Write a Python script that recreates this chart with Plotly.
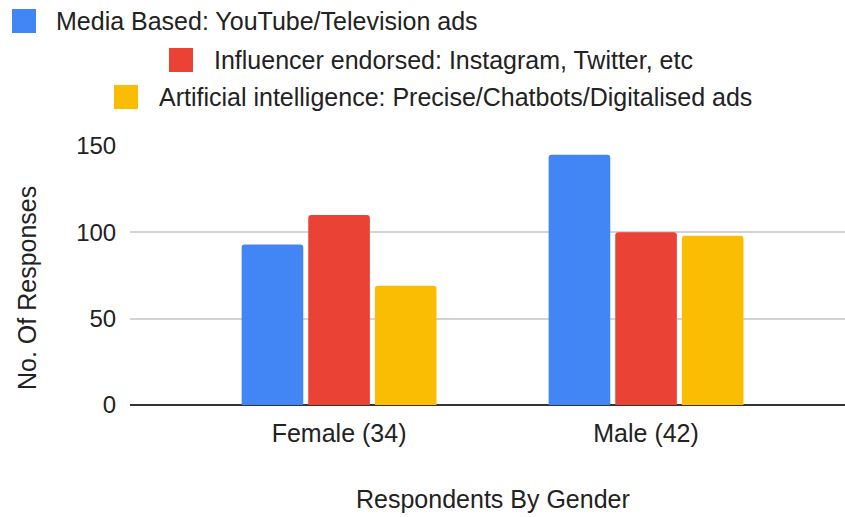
import plotly.graph_objects as go

categories = ["Female (34)", "Male (42)"]
series_names = [
    "Media Based: YouTube/Television ads",
    "Influencer endorsed: Instagram, Twitter, etc",
    "Artificial intelligence: Precise/Chatbots/Digitalised ads",
]
media_based = [93, 145]
influencer = [110, 100]
ai_ads = [69, 98]
colors = ["#4285F4", "#EA4335", "#FBBC04"]
y_ticks = [0, 50, 100, 150]

W, H = 845, 517
L, R, T, B = 130, 0, 146, 112
PW, PH = W - L - R, H - T - B

def px(x):
    return (x - L) / PW

def py(y):
    return (H - B - y) / PH

FONT = "Liberation Sans, Arial, sans-serif"
TXT = "#222222"

fig = go.Figure()
for name, vals, c in zip(series_names, [media_based, influencer, ai_ads], colors):
    fig.add_trace(go.Bar(x=[0, 1], y=vals, name=name, marker=dict(color=c, line=dict(width=0)),
                         showlegend=False))

# legend drawn manually (staggered layout like the reference)
legend_pos = [(12, 21, 54), (169, 60, 212), (114, 97, 157)]  # square left, center y, text left
shapes = []
annotations = []
for (sx, cy, tx), name, c in zip(legend_pos, series_names, colors):
    shapes.append(dict(type="rect", xref="paper", yref="paper",
                       x0=px(sx), x1=px(sx + 24), y0=py(cy - 12), y1=py(cy + 12),
                       fillcolor=c, line=dict(width=0)))
    annotations.append(dict(text=name, xref="paper", yref="paper", x=px(tx), y=py(cy),
                            xanchor="left", yanchor="middle", showarrow=False,
                            font=dict(size=25, color=TXT, family=FONT)))

annotations.append(dict(text="No. Of Responses", xref="paper", yref="paper",
                        x=px(27), y=py(288), textangle=-90, xanchor="center", yanchor="middle",
                        showarrow=False, font=dict(size=25, color=TXT, family=FONT)))
annotations.append(dict(text="Respondents By Gender", xref="paper", yref="paper",
                        x=px(493), y=py(499), xanchor="center", yanchor="middle",
                        showarrow=False, font=dict(size=25, color=TXT, family=FONT)))

fig.update_layout(
    width=W, height=H,
    margin=dict(l=L, r=R, t=T, b=B, pad=0),
    paper_bgcolor="white", plot_bgcolor="white",
    barmode="group", bargap=0.349, bargroupgap=0.075, barcornerradius=3,
    shapes=shapes, annotations=annotations,
    font=dict(family=FONT, size=24, color=TXT),
    xaxis=dict(tickmode="array", tickvals=[0, 1], ticktext=categories,
               range=[-0.681, 1.648], showgrid=False, zeroline=False, showline=False,
               ticks="outside", ticklen=6, tickcolor="rgba(0,0,0,0)",
               tickfont=dict(size=25, color=TXT)),
    yaxis=dict(range=[0, 150], tickvals=y_ticks, showgrid=True, gridcolor="#d3d3d3", gridwidth=1.5,
               zeroline=True, zerolinecolor="#333333", zerolinewidth=2, showline=False,
               ticks="outside", ticklen=8, tickcolor="rgba(0,0,0,0)",
               tickfont=dict(size=24, color=TXT)),
)

fig.write_html("out.html")
